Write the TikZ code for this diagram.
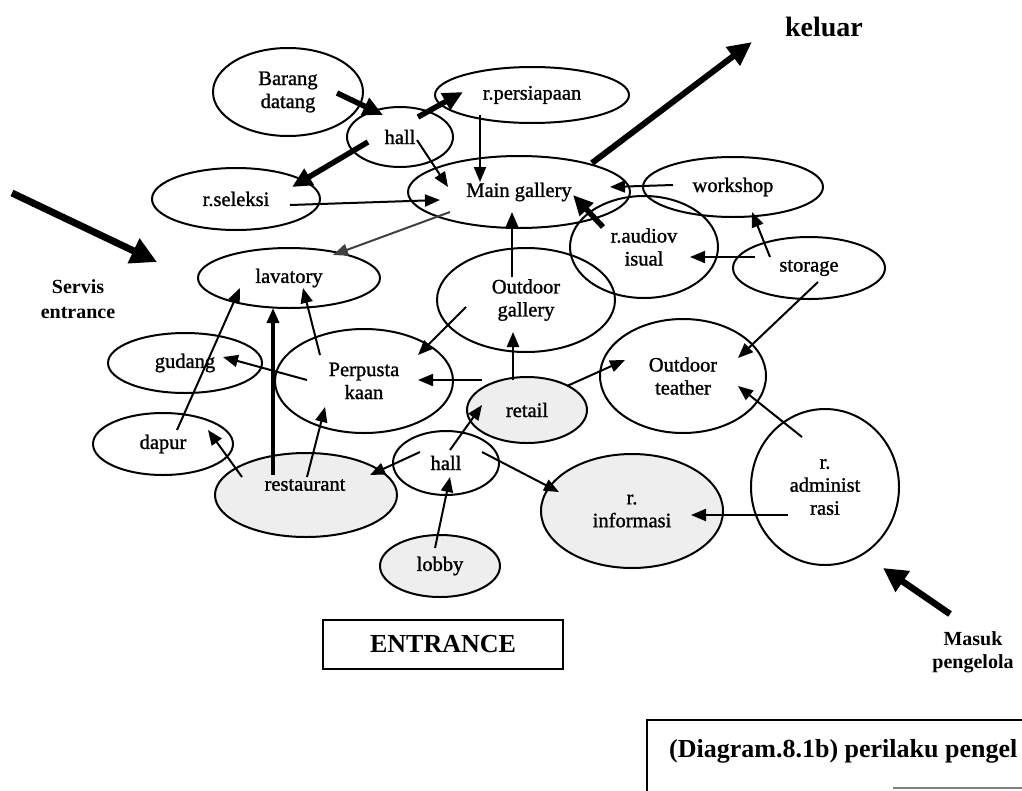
\documentclass[tikz,border=0pt]{standalone}
\usepackage{fontspec}
\setmainfont{Liberation Serif}
\newfontfamily\scanfont{Liberation Serif}[FakeBold=1.2]
\usetikzlibrary{arrows.meta,shapes.geometric}
\begin{document}
\begin{tikzpicture}[x=1pt,y=-1pt,
  room/.style={draw, ellipse, line width=2pt, inner sep=0pt, align=center,
    font=\scanfont\fontsize{20.5}{23}\selectfont},
  stip/.style={fill=gray!13},
  con/.style={line width=2pt, -{Triangle[length=15pt,width=12pt]}},
  heavy/.style={line width=5.5pt, -{Triangle[length=20pt,width=18pt]}},
  bigarrow/.style={line width=7pt, -{Triangle[length=26pt,width=26pt]}},
  lbl/.style={font=\bfseries\fontsize{20}{24}\selectfont, align=center, inner sep=0pt}]
\useasboundingbox (0,0) rectangle (1022,790);
\clip (0,0) rectangle (1022,790);
\fill[white] (0,0) rectangle (1022,790);

% rooms
\node[room, minimum width=150pt, minimum height=88pt] (bd) at (288,92) {Barang\\datang};
\node[room, minimum width=106pt, minimum height=60pt] (hallT) at (400,137) {hall};
\node[room, minimum width=194pt, minimum height=56pt] (rpers) at (532,95) {r.persiapaan};
\node[room, minimum width=222pt, minimum height=72pt] (main) at (519,192) {Main gallery};
\node[room, minimum width=168pt, minimum height=62pt] (rsel) at (236,199) {r.seleksi};
\node[room, minimum width=182pt, minimum height=60pt] (lav) at (289,278) {lavatory};
\node[room, minimum width=180pt, minimum height=60pt] (work) at (733,187) {workshop};
\node[room, minimum width=148pt, minimum height=102pt] (raudio) at (644,247) {r.audiov\\isual};
\node[room, minimum width=152pt, minimum height=62pt] (stor) at (809,268) {storage};
\node[room, minimum width=178pt, minimum height=104pt] (ogal) at (526,300) {Outdoor\\gallery};
\node[room, minimum width=166pt, minimum height=114pt] (otea) at (683,376) {Outdoor\\teather};
\node[room, stip, minimum width=120pt, minimum height=66pt] (retail) at (527,410) {retail};
\node[room, stip, minimum width=182pt, minimum height=114pt] (rinfo) at (632,511) {r.\\informasi};
\node[room, minimum width=148pt, minimum height=156pt] (radmin) at (825,487) {r.\\administ\\rasi};
\node[room, minimum width=178pt, minimum height=104pt] (perp) at (364,381) {Perpusta\\kaan};
\node[room, minimum width=154pt, minimum height=60pt] (gud) at (185,363) {gudang};
\node[room, minimum width=140pt, minimum height=62pt] (dapur) at (163,444) {dapur};
\node[room, stip, minimum width=182pt, minimum height=84pt] (rest) at (306,495) {};
\node[font=\scanfont\fontsize{20.5}{23}\selectfont, inner sep=0pt] (restT) at (305,485) {restaurant};
\node[room, minimum width=106pt, minimum height=64pt] (hallB) at (446,463) {hall};
\node[room, stip, minimum width=120pt, minimum height=62pt] (lobby) at (440,566) {lobby};

% heavy connectors
\draw[heavy] ([shift={(49,1)}]bd.center) -- ([shift={(-17,-22)}]hallT.center);
\draw[heavy] ([shift={(18,-20)}]hallT.center) -- ([shift={(-69,-3)}]rpers.center);
\draw[heavy] ([shift={(-32,5)}]hallT.center) -- ([shift={(56,-12)}]rsel.center);
\draw[heavy] ([shift={(-41,-20)}]raudio.center) -- ([shift={(54,3)}]main.center);

% thin connectors
\draw[con] ([shift={(17,3)}]hallT.center) -- ([shift={(-71,-5)}]main.center);
\draw[con] ([shift={(-52,20)}]rpers.center) -- ([shift={(-39,-10)}]main.center);
\draw[con] ([shift={(54,6)}]rsel.center) -- ([shift={(-79,8)}]main.center);
\draw[con, black!75] ([shift={(-69,20)}]main.center) -- ([shift={(44,-23)}]lav.center);
\draw[con] ([shift={(-60,-2)}]work.center) -- ([shift={(91,-5)}]main.center);
\draw[con, line width=2.6pt] ([shift={(-14,-23)}]ogal.center) -- ([shift={(-7,20)}]main.center);
\draw[con] ([shift={(-54,-11)}]stor.center) -- ([shift={(46,10)}]raudio.center);
\draw[con] ([shift={(-39,-11)}]stor.center) -- ([shift={(19,25)}]work.center);
\draw[con] ([shift={(9,14)}]stor.center) -- ([shift={(55,-18)}]otea.center);
\draw[con] ([shift={(-60,7)}]ogal.center) -- ([shift={(54,-26)}]perp.center);
\draw[con, line width=2.6pt] ([shift={(-14,-30)}]retail.center) -- ([shift={(-13,32)}]ogal.center);
\draw[con] ([shift={(-45,-30)}]retail.center) -- ([shift={(54,-1)}]perp.center);
\draw[con] ([shift={(40,-24)}]retail.center) -- ([shift={(-58,-16)}]otea.center);
\draw[con] ([shift={(4,-13)}]hallB.center) -- ([shift={(-45,-5)}]retail.center);
\draw[con] ([shift={(-26,-11)}]hallB.center) -- ([shift={(64,-20)}]rest.center);
\draw[con] ([shift={(36,-11)}]hallB.center) -- ([shift={(-73,-19)}]rinfo.center);
\draw[con] ([shift={(-5,-18)}]lobby.center) -- ([shift={(4,14)}]hallB.center);
\draw[con] ([shift={(-37,28)}]radmin.center) -- ([shift={(59,4)}]rinfo.center);
\draw[con] ([shift={(-23,-50)}]radmin.center) -- ([shift={(55,10)}]otea.center);
\draw[con] ([shift={(-57,-1)}]perp.center) -- ([shift={(38,-6)}]gud.center);
\draw[con] ([shift={(-44,-26)}]perp.center) -- ([shift={(14,10)}]lav.center);
\draw[con, line width=3.5pt] ([shift={(-33,-20)}]rest.center) -- ([shift={(-16,30)}]lav.center);
\draw[con] ([shift={(14,-14)}]dapur.center) -- ([shift={(-49,10)}]lav.center);
\draw[con] ([shift={(-64,-18)}]rest.center) -- ([shift={(45,-14)}]dapur.center);
\draw[con] ([shift={(1,-18)}]rest.center) -- ([shift={(-39,26)}]perp.center);

% outside labels and arrows
\node[lbl, font=\bfseries\fontsize{28}{30}\selectfont] (kel) at (824,27) {keluar};
\coordinate (kelTip) at (752,42);
\draw[line width=6pt, -{Triangle[length=24pt,width=22pt]}] ([shift={(73,-29)}]main.center) -- (kelTip);

\node[lbl, font=\bfseries\fontsize{20}{25}\selectfont] (servis) at (78,299) {Servis\\entrance};
\coordinate (sA) at (12,193);
\coordinate (sB) at (157,262);
\draw[bigarrow] (sA) -- (sB);

\node[lbl, font=\bfseries\fontsize{20}{23}\selectfont] (masuk) at (973,652) {Masuk\\pengelola};
\coordinate (mA) at (950,614);
\coordinate (mB) at (883,568);
\draw[line width=6.5pt, -{Triangle[length=24pt,width=24pt]}] (mA) -- (mB);

\node[draw, line width=1.3pt, minimum width=240pt, minimum height=49pt, inner sep=0pt,
  font=\bfseries\fontsize{26}{28}\selectfont] (ent) at (443,644.5) {ENTRANCE};

\node[anchor=base west, inner sep=0pt, font=\bfseries\fontsize{26}{28}\selectfont] (cap) at (669,757) {(Diagram.8.1b) perilaku pengel};
\draw[line width=1.3pt] (647,800) -- (647,720) -- (1030,720);
\draw[line width=1.3pt, gray] (893,788) -- (1030,788);
\end{tikzpicture}
\end{document}
